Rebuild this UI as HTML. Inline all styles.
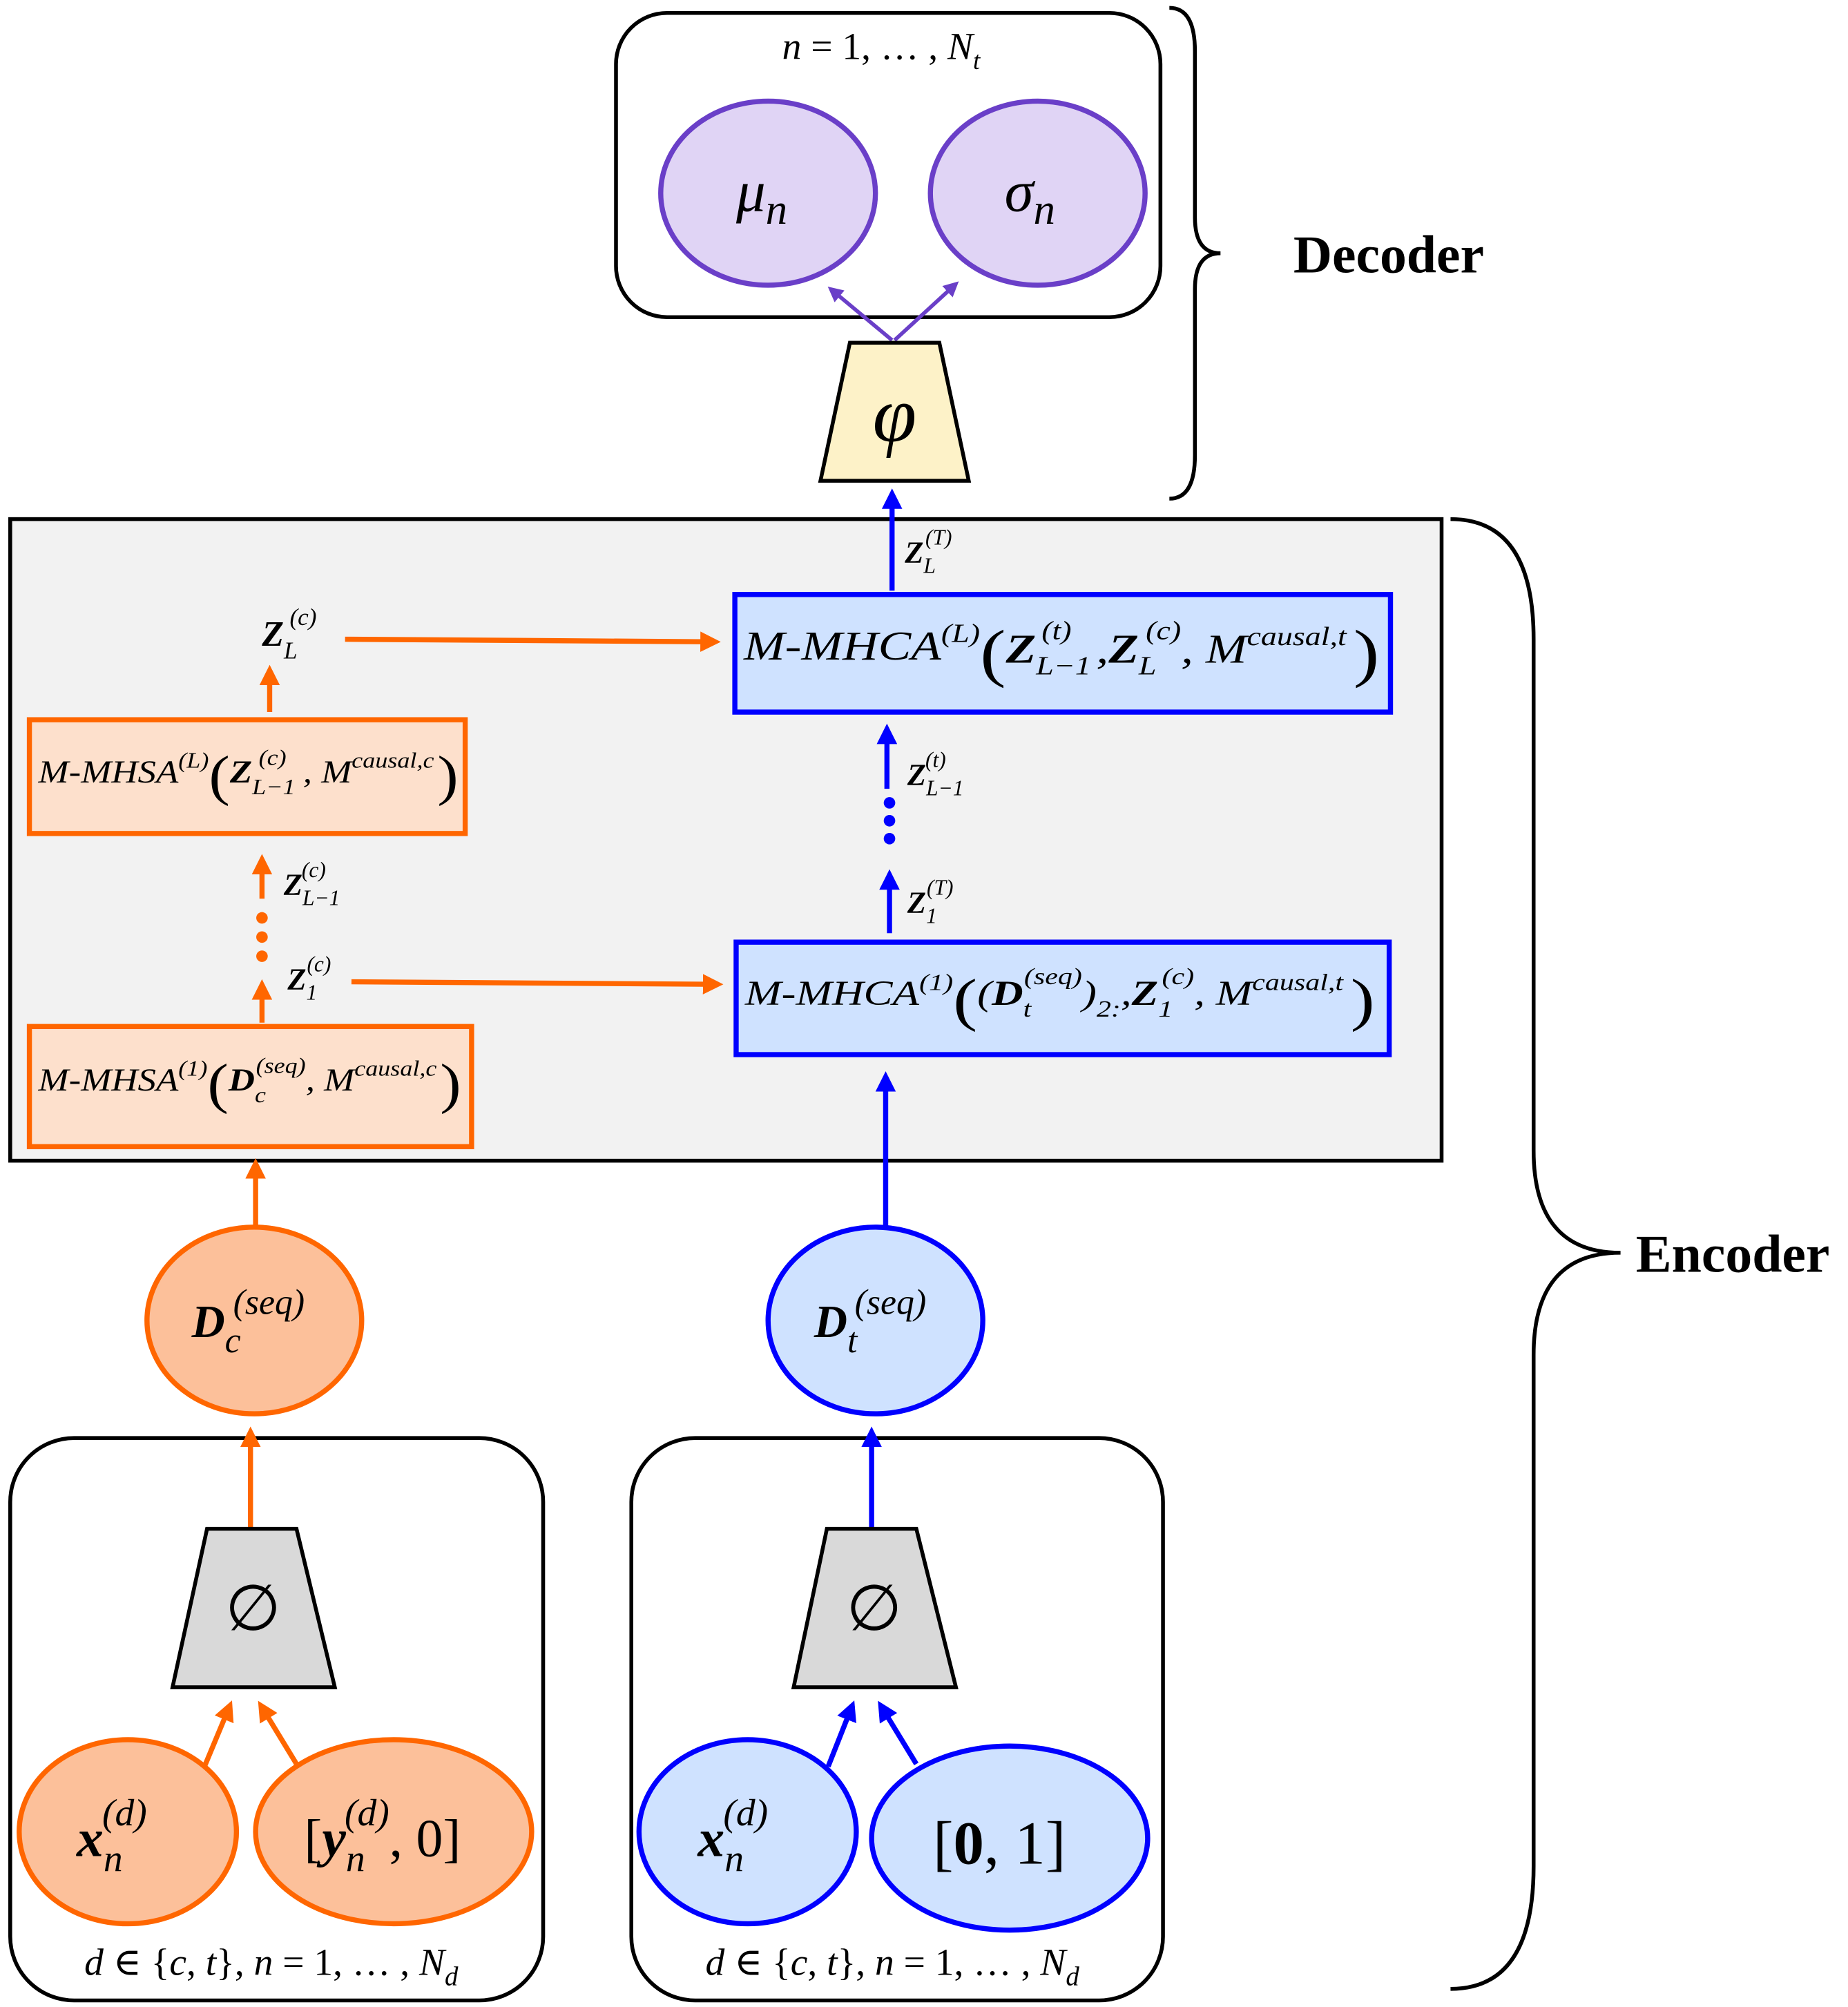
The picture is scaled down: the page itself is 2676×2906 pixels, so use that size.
<!DOCTYPE html>
<html><head><meta charset="utf-8"><style>
html,body{margin:0;padding:0;background:#fff}
svg{display:block}
text{font-family:"Liberation Serif","DejaVu Serif",serif}
.m{font-style:italic}
</style></head><body>
<svg width="2676" height="2906" viewBox="0 0 1446 1570" xmlns="http://www.w3.org/2000/svg">
<defs>
<marker id="ao" markerWidth="4" markerHeight="4" refX="3" refY="2" orient="auto"><path d="M0,0L4,2L0,4z" fill="#ff6600"/></marker>
<marker id="ab" markerWidth="4" markerHeight="4" refX="3" refY="2" orient="auto"><path d="M0,0L4,2L0,4z" fill="#0000ff"/></marker>
<marker id="ap" markerWidth="4" markerHeight="4" refX="3" refY="2" orient="auto"><path d="M0,0L4,2L0,4z" fill="#6a3fc8"/></marker>
</defs>
<!-- Decoder -->
<rect x="482" y="10" width="426" height="238" rx="40" fill="#fff" stroke="#000" stroke-width="3"/>
<text x="612" y="46" font-size="30" class="m">n <tspan font-style="normal">= 1, … ,</tspan> N<tspan font-size="20" dy="8">t</tspan></text>
<ellipse cx="601" cy="151" rx="84" ry="72" fill="#e0d4f5" stroke="#6a3fc8" stroke-width="4"/>
<ellipse cx="812" cy="151" rx="84" ry="72" fill="#e0d4f5" stroke="#6a3fc8" stroke-width="4"/>
<text x="576" y="165" font-size="46" class="m">μ<tspan font-size="34" dy="10">n</tspan></text>
<text x="786" y="165" font-size="46" class="m">σ<tspan font-size="34" dy="10">n</tspan></text>
<line x1="698" y1="266" x2="650" y2="226" stroke="#6a3fc8" stroke-width="3" marker-end="url(#ap)"/>
<line x1="700" y1="266" x2="748" y2="222" stroke="#6a3fc8" stroke-width="3" marker-end="url(#ap)"/>
<polygon points="665,268 735,268 758,376 642,376" fill="#fdf2c8" stroke="#000" stroke-width="3"/>
<text x="700" y="345" font-size="62" class="m" text-anchor="middle">φ</text>
<path d="M915,6 Q935,6 935,40 L935,170 Q935,198 955,198 Q935,198 935,226 L935,356 Q935,390 915,390" fill="none" stroke="#000" stroke-width="3"/>
<text x="1012" y="213" font-size="42" font-weight="bold">Decoder</text>
<!-- Encoder box -->
<rect x="8" y="406" width="1120" height="502" fill="#f2f2f2" stroke="#000" stroke-width="3"/>
<path d="M1135,406 Q1200,406 1200,500 L1200,900 Q1200,980 1268,980 Q1200,980 1200,1060 L1200,1460 Q1200,1556 1135,1556" fill="none" stroke="#000" stroke-width="3"/>
<text x="1280" y="995" font-size="42" font-weight="bold">Encoder</text>
<line x1="698" y1="462" x2="698" y2="386" stroke="#0000ff" stroke-width="4" marker-end="url(#ab)"/>
<text x="708" y="440" font-size="24" class="m" font-weight="bold">Z<tspan font-size="17" font-weight="normal" dy="8">L</tspan><tspan font-size="17" font-weight="normal" dx="-8" dy="-22">(T)</tspan></text>
<rect x="575" y="465" width="513" height="92" fill="#cfe2ff" stroke="#0000ff" stroke-width="4"/>
<g transform="translate(582,516) scale(1.38,1.15)">
<text x="0" y="0" font-size="28" class="m">M-MHCA<tspan font-size="18" dy="-12">(L)</tspan><tspan font-size="44" dy="22" font-style="normal">(</tspan><tspan font-weight="bold" dy="-8">Z</tspan><tspan font-size="18" dy="8">L−1</tspan><tspan font-size="18" dx="-28" dy="-24">(t)</tspan><tspan dx="14" dy="16">,</tspan><tspan font-weight="bold">Z</tspan><tspan font-size="18" dy="8">L</tspan><tspan font-size="18" dx="-6" dy="-24">(c)</tspan><tspan dy="16">, M</tspan><tspan font-size="18" dy="-12">causal,t</tspan><tspan font-size="44" dx="4" dy="20" font-style="normal">)</tspan></text></g>
<text x="205" y="505" font-size="28" class="m" font-weight="bold">Z<tspan font-size="19" font-weight="normal" dy="10">L</tspan><tspan font-size="19" font-weight="normal" dx="-6" dy="-26">(c)</tspan></text>
<line x1="270" y1="500" x2="560" y2="502" stroke="#ff6600" stroke-width="4" marker-end="url(#ao)"/>
<line x1="211" y1="557" x2="211" y2="524" stroke="#ff6600" stroke-width="4" marker-end="url(#ao)"/>
<rect x="23" y="563" width="341" height="89" fill="#fde0cc" stroke="#ff6600" stroke-width="4"/>
<g transform="translate(30,612) scale(1.3,1.15)">
<text x="0" y="0" font-size="22" class="m">M-MHSA<tspan font-size="15" dy="-10">(L)</tspan><tspan font-size="38" dy="18" font-style="normal">(</tspan><tspan font-weight="bold" dy="-8">Z</tspan><tspan font-size="15" dy="8">L−1</tspan><tspan font-size="15" dx="-22" dy="-20">(c)</tspan><tspan dx="10" dy="12">, M</tspan><tspan font-size="15" dy="-10">causal,c</tspan><tspan font-size="38" dx="2" dy="18" font-style="normal">)</tspan></text></g>
<line x1="205" y1="703" x2="205" y2="672" stroke="#ff6600" stroke-width="4" marker-end="url(#ao)"/>
<text x="222" y="700" font-size="24" class="m" font-weight="bold">Z<tspan font-size="17" font-weight="normal" dy="8">L−1</tspan><tspan font-size="17" font-weight="normal" dx="-30" dy="-22">(c)</tspan></text>
<circle cx="205" cy="718" r="4.5" fill="#ff6600"/><circle cx="205" cy="733" r="4.5" fill="#ff6600"/><circle cx="205" cy="748" r="4.5" fill="#ff6600"/>
<line x1="205" y1="800" x2="205" y2="770" stroke="#ff6600" stroke-width="4" marker-end="url(#ao)"/>
<text x="225" y="774" font-size="24" class="m" font-weight="bold">Z<tspan font-size="17" font-weight="normal" dy="8">1</tspan><tspan font-size="17" font-weight="normal" dx="-8" dy="-22">(c)</tspan></text>
<line x1="275" y1="768" x2="562" y2="770" stroke="#ff6600" stroke-width="4" marker-end="url(#ao)"/>
<rect x="23" y="803" width="346" height="94" fill="#fde0cc" stroke="#ff6600" stroke-width="4"/>
<g transform="translate(30,853) scale(1.3,1.15)">
<text x="0" y="0" font-size="22" class="m">M-MHSA<tspan font-size="15" dy="-10">(1)</tspan><tspan font-size="38" dy="18" font-style="normal">(</tspan><tspan font-weight="bold" dy="-8">D</tspan><tspan font-size="15" dy="8">c</tspan><tspan font-size="15" dx="-6" dy="-20">(seq)</tspan><tspan dy="12">, M</tspan><tspan font-size="15" dy="-10">causal,c</tspan><tspan font-size="38" dx="2" dy="18" font-style="normal">)</tspan></text></g>
<rect x="576" y="737" width="511" height="88" fill="#cfe2ff" stroke="#0000ff" stroke-width="4"/>
<g transform="translate(583,786) scale(1.42,1.15)">
<text x="0" y="0" font-size="24" class="m">M-MHCA<tspan font-size="16" dy="-10">(1)</tspan><tspan font-size="40" dy="20" font-style="normal">(</tspan><tspan dy="-10">(</tspan><tspan font-weight="bold">D</tspan><tspan font-size="16" dy="8">t</tspan><tspan font-size="16" dx="-4" dy="-22">(seq)</tspan><tspan dy="14">)</tspan><tspan font-size="16" dy="8">2:</tspan><tspan dy="-8">,</tspan><tspan font-weight="bold">Z</tspan><tspan font-size="16" dy="8">1</tspan><tspan font-size="16" dx="-6" dy="-22">(c)</tspan><tspan dy="14">, M</tspan><tspan font-size="16" dy="-10">causal,t</tspan><tspan font-size="40" dx="4" dy="20" font-style="normal">)</tspan></text></g>
<line x1="696" y1="730" x2="696" y2="684" stroke="#0000ff" stroke-width="4" marker-end="url(#ab)"/>
<text x="710" y="714" font-size="24" class="m" font-weight="bold">Z<tspan font-size="17" font-weight="normal" dy="8">1</tspan><tspan font-size="17" font-weight="normal" dx="-8" dy="-22">(T)</tspan></text>
<circle cx="696" cy="628" r="4.5" fill="#0000ff"/><circle cx="696" cy="642" r="4.5" fill="#0000ff"/><circle cx="696" cy="656" r="4.5" fill="#0000ff"/>
<line x1="694" y1="617" x2="694" y2="570" stroke="#0000ff" stroke-width="4" marker-end="url(#ab)"/>
<text x="710" y="614" font-size="24" class="m" font-weight="bold">Z<tspan font-size="17" font-weight="normal" dy="8">L−1</tspan><tspan font-size="17" font-weight="normal" dx="-30" dy="-22">(t)</tspan></text>
<!-- mid -->
<line x1="693" y1="960" x2="693" y2="842" stroke="#0000ff" stroke-width="4" marker-end="url(#ab)"/>
<line x1="200" y1="960" x2="200" y2="910" stroke="#ff6600" stroke-width="4" marker-end="url(#ao)"/>
<ellipse cx="199" cy="1033" rx="84" ry="73" fill="#fcc09a" stroke="#ff6600" stroke-width="4"/>
<ellipse cx="685" cy="1033" rx="84" ry="73" fill="#cfe2ff" stroke="#0000ff" stroke-width="4"/>
<text x="150" y="1046" font-size="36" class="m" font-weight="bold">D<tspan font-size="28" font-weight="normal" dy="12">c</tspan><tspan font-size="28" font-weight="normal" dx="-6" dy="-30">(seq)</tspan></text>
<text x="637" y="1046" font-size="36" class="m" font-weight="bold">D<tspan font-size="28" font-weight="normal" dy="12">t</tspan><tspan font-size="28" font-weight="normal" dx="-2" dy="-30">(seq)</tspan></text>
<!-- bottom boxes -->
<rect x="8" y="1125" width="417" height="440" rx="50" fill="#fff" stroke="#000" stroke-width="3"/>
<rect x="494" y="1125" width="416" height="440" rx="50" fill="#fff" stroke="#000" stroke-width="3"/>
<line x1="196" y1="1195" x2="196" y2="1120" stroke="#ff6600" stroke-width="4" marker-end="url(#ao)"/>
<line x1="682" y1="1195" x2="682" y2="1120" stroke="#0000ff" stroke-width="4" marker-end="url(#ab)"/>
<polygon points="162,1196 232,1196 262,1320 135,1320" fill="#d9d9d9" stroke="#000" stroke-width="3"/>
<polygon points="647,1196 717,1196 748,1320 621,1320" fill="#d9d9d9" stroke="#000" stroke-width="3"/>
<text x="198" y="1275" font-size="50" text-anchor="middle">∅</text>
<text x="684" y="1275" font-size="50" text-anchor="middle">∅</text>
<line x1="160" y1="1382" x2="180" y2="1334" stroke="#ff6600" stroke-width="4" marker-end="url(#ao)"/>
<line x1="232" y1="1380" x2="204" y2="1334" stroke="#ff6600" stroke-width="4" marker-end="url(#ao)"/>
<line x1="648" y1="1382" x2="667" y2="1334" stroke="#0000ff" stroke-width="4" marker-end="url(#ab)"/>
<line x1="717" y1="1380" x2="689" y2="1334" stroke="#0000ff" stroke-width="4" marker-end="url(#ab)"/>
<ellipse cx="100" cy="1433" rx="85" ry="72" fill="#fcc09a" stroke="#ff6600" stroke-width="4"/>
<ellipse cx="308" cy="1433" rx="108" ry="72" fill="#fcc09a" stroke="#ff6600" stroke-width="4"/>
<ellipse cx="585" cy="1433" rx="85" ry="72" fill="#cfe2ff" stroke="#0000ff" stroke-width="4"/>
<ellipse cx="790" cy="1438" rx="108" ry="72" fill="#cfe2ff" stroke="#0000ff" stroke-width="4"/>
<text x="60" y="1452" font-size="42" class="m" font-weight="bold">x<tspan font-size="30" font-weight="normal" dy="12">n</tspan><tspan font-size="30" font-weight="normal" dx="-16" dy="-36">(d)</tspan></text>
<text x="238" y="1452" font-size="42">[<tspan class="m" font-weight="bold">y</tspan><tspan class="m" font-size="30" dy="12">n</tspan><tspan class="m" font-size="30" dx="-16" dy="-36">(d)</tspan><tspan dy="24">, 0]</tspan></text>
<text x="546" y="1452" font-size="42" class="m" font-weight="bold">x<tspan font-size="30" font-weight="normal" dy="12">n</tspan><tspan font-size="30" font-weight="normal" dx="-16" dy="-36">(d)</tspan></text>
<text x="730" y="1458" font-size="48">[<tspan font-weight="bold">0</tspan>, 1]</text>
<text x="66" y="1545" font-size="30" class="m">d <tspan font-style="normal">∈ {</tspan>c<tspan font-style="normal">,</tspan> t<tspan font-style="normal">},</tspan> n <tspan font-style="normal">= 1, … ,</tspan> N<tspan font-size="21" dy="8">d</tspan></text>
<text x="552" y="1545" font-size="30" class="m">d <tspan font-style="normal">∈ {</tspan>c<tspan font-style="normal">,</tspan> t<tspan font-style="normal">},</tspan> n <tspan font-style="normal">= 1, … ,</tspan> N<tspan font-size="21" dy="8">d</tspan></text>
</svg>
</body></html>
